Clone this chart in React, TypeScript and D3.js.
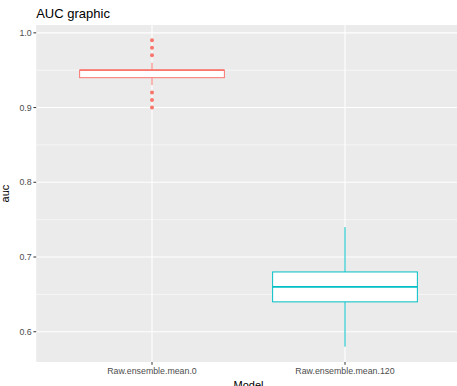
import React from "react";
import * as d3 from "d3";

const categories = ["Raw.ensemble.mean.0", "Raw.ensemble.mean.120"];
const lowerWhisker = [0.93, 0.58];
const q1 = [0.94, 0.64];
const median = [0.95, 0.66];
const q3 = [0.95, 0.68];
const upperWhisker = [0.96, 0.74];
const outliers = [[0.9, 0.91, 0.92, 0.97, 0.98, 0.99], []];
const colors = ["#F8766D", "#00BFC4"];
const yTicks = [0.6, 0.7, 0.8, 0.9, 1.0];
const yMinor = [0.65, 0.75, 0.85, 0.95];

const W = 457;
const H = 386;
const panel = { left: 36.2, right: 460.8, top: 25, bottom: 362 };

export default function App() {
  const allVals = [...lowerWhisker, ...upperWhisker, ...outliers.flat()];
  const lo = d3.min(allVals) as number;
  const hi = d3.max(allVals) as number;
  const pad = (hi - lo) * 0.05;
  const y = d3.scaleLinear().domain([lo - pad, hi + pad]).range([panel.bottom, panel.top]);
  const x = d3.scalePoint<string>().domain(categories).range([panel.left, panel.right]).padding(0.6);
  const bw = x.step() * 0.75;
  const font = "'Liberation Sans', Arial, sans-serif";

  return (
    <svg width={W} height={H} style={{ position: "absolute", left: 0, top: 0 }} fontFamily={font}>
      <rect x={0} y={0} width={W} height={H} fill="#ffffff" />
      <rect x={panel.left} y={panel.top} width={panel.right - panel.left} height={panel.bottom - panel.top} fill="#EBEBEB" />
      {yMinor.map((t) => (
        <line key={"m" + t} x1={panel.left} x2={panel.right} y1={y(t)} y2={y(t)} stroke="#fff" strokeWidth={0.55} />
      ))}
      {yTicks.map((t) => (
        <line key={"g" + t} x1={panel.left} x2={panel.right} y1={y(t)} y2={y(t)} stroke="#fff" strokeWidth={1.1} />
      ))}
      {categories.map((c) => (
        <line key={"v" + c} x1={x(c)} x2={x(c)} y1={panel.top} y2={panel.bottom} stroke="#fff" strokeWidth={1.1} />
      ))}
      {categories.map((c, i) => {
        const cx = x(c) as number;
        return (
          <g key={"b" + c} stroke={colors[i]} fill="none">
            <line x1={cx} x2={cx} y1={y(upperWhisker[i])} y2={y(q3[i])} strokeWidth={1} />
            <line x1={cx} x2={cx} y1={y(q1[i])} y2={y(lowerWhisker[i])} strokeWidth={1} />
            <rect x={cx - bw / 2} y={y(q3[i])} width={bw} height={y(q1[i]) - y(q3[i])} fill="#fff" strokeWidth={1} />
            <line x1={cx - bw / 2} x2={cx + bw / 2} y1={y(median[i])} y2={y(median[i])} strokeWidth={1.8} />
            {outliers[i].map((v, j) => (
              <circle key={j} cx={cx} cy={y(v)} r={2} fill={colors[i]} stroke="none" />
            ))}
          </g>
        );
      })}
      {yTicks.map((t) => (
        <g key={"t" + t}>
          <line x1={panel.left - 2.8} x2={panel.left} y1={y(t)} y2={y(t)} stroke="#333" strokeWidth={1} />
          <text x={panel.left - 4.5} y={y(t)} dy="0.35em" textAnchor="end" fontSize={8.8} fill="#4D4D4D">
            {d3.format(".1f")(t)}
          </text>
        </g>
      ))}
      {categories.map((c) => (
        <g key={"xt" + c}>
          <line x1={x(c)} x2={x(c)} y1={panel.bottom} y2={panel.bottom + 2.8} stroke="#333" strokeWidth={1} />
          <text x={x(c)} y={panel.bottom + 11.5} textAnchor="middle" fontSize={8.8} fill="#4D4D4D">
            {c}
          </text>
        </g>
      ))}
      <text x={(panel.left + panel.right) / 2} y={389} textAnchor="middle" fontSize={11} fill="#000">
        Model
      </text>
      <text
        transform={`translate(9,${(panel.top + panel.bottom) / 2}) rotate(-90)`}
        textAnchor="middle"
        fontSize={11}
        fill="#000"
      >
        auc
      </text>
      <text x={panel.left} y={17.5} fontSize={13} fill="#000">
        AUC graphic
      </text>
    </svg>
  );
}
